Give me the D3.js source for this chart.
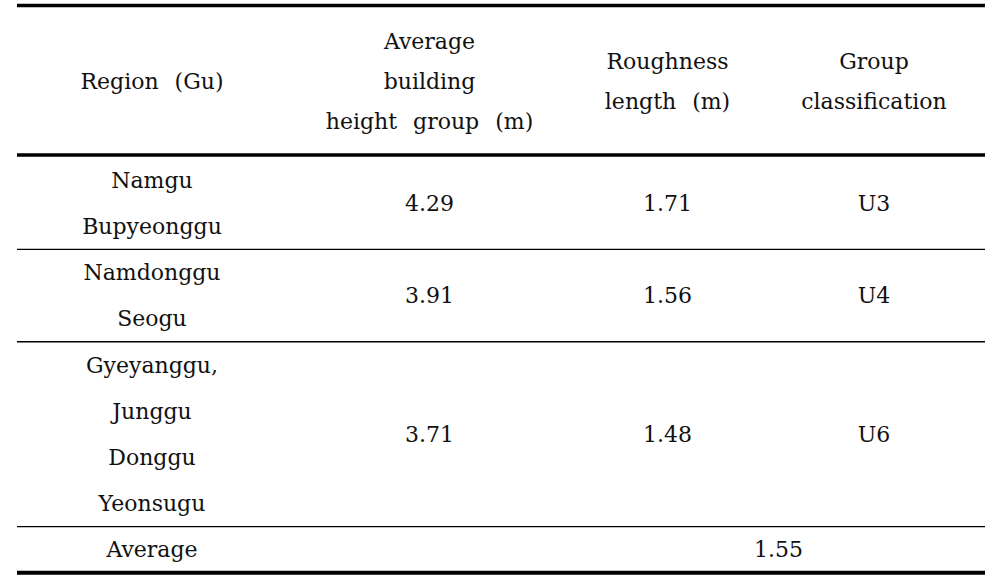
<!DOCTYPE html>
<html>
<head>
<meta charset="utf-8">
<script src="https://cdn.jsdelivr.net/npm/d3@7"></script>
<style>
  html, body { margin: 0; padding: 0; background: #fff; }
  svg { display: block; }
  text { font-family: "DejaVu Serif", "Liberation Serif", serif; font-size: 22px; fill: #111; word-spacing: 9px; }
</style>
</head>
<body>
<svg id="chart" width="988" height="580"></svg>
<script>
// ---- data ----
const headers = [
  ["Region (Gu)"],
  ["Average", "building", "height group (m)"],
  ["Roughness", "length (m)"],
  ["Group", "classification"]
];
const regions = [
  ["Namgu", "Bupyeonggu"],
  ["Namdonggu", "Seogu"],
  ["Gyeyanggu,", "Junggu", "Donggu", "Yeonsugu"]
];
const avgHeights = ["4.29", "3.91", "3.71"];
const roughness = ["1.71", "1.56", "1.48"];
const groups = ["U3", "U4", "U6"];
const averageLabel = "Average";
const averageValue = "1.55";

// ---- layout ----
const svg = d3.select("#chart");
const x = d3.scaleLinear().domain([0, 4]).range([17, 985]);
const colEdges = [17, 287, 572, 763, 985];
const colX = i => (colEdges[i] + colEdges[i + 1]) / 2;
const tableTop = 5.5, headBottom = 155, bodyTop = 157;
const headLine = 40, bodyLine = 46.2;

// header text
headers.forEach((lines, ci) => {
  const cy = (tableTop + headBottom) / 2 + 1;
  svg.append("g").selectAll("text").data(lines).join("text")
    .attr("x", colX(ci))
    .attr("y", (d, i) => cy + (i - (lines.length - 1) / 2) * headLine)
    .attr("dy", "0.35em")
    .attr("text-anchor", "middle")
    .text(d => d);
});

// body rows
let y0 = bodyTop;
const rowBounds = [];
regions.forEach((lines, ri) => {
  const h = lines.length * bodyLine;
  const cy = y0 + h / 2;
  svg.append("g").selectAll("text").data(lines).join("text")
    .attr("x", colX(0))
    .attr("y", (d, i) => cy + (i - (lines.length - 1) / 2) * bodyLine)
    .attr("dy", "0.35em")
    .attr("text-anchor", "middle")
    .text(d => d);
  [avgHeights[ri], roughness[ri], groups[ri]].forEach((v, k) => {
    svg.append("text")
      .attr("x", colX(k + 1))
      .attr("y", cy)
      .attr("dy", "0.35em")
      .attr("text-anchor", "middle")
      .text(v);
  });
  y0 += h;
  rowBounds.push(y0);
});

// average row
const avgCy = y0 + bodyLine / 2;
svg.append("text").attr("x", colX(0)).attr("y", avgCy).attr("dy", "0.35em")
  .attr("text-anchor", "middle").text(averageLabel);
svg.append("text").attr("x", (colEdges[2] + colEdges[4]) / 2).attr("y", avgCy).attr("dy", "0.35em")
  .attr("text-anchor", "middle").text(averageValue);
const tableBottom = y0 + bodyLine;

// rules
const rules = [
  { y: tableTop, w: 3.5 },
  { y: headBottom, w: 3.5 },
  ...rowBounds.map(y => ({ y: y, w: 1.4 })),
  { y: tableBottom, w: 4 }
];
svg.append("g").selectAll("line").data(rules).join("line")
  .attr("x1", x(0)).attr("x2", x(4))
  .attr("y1", d => d.y).attr("y2", d => d.y)
  .attr("stroke", "#000")
  .attr("stroke-width", d => d.w);
</script>
</body>
</html>
